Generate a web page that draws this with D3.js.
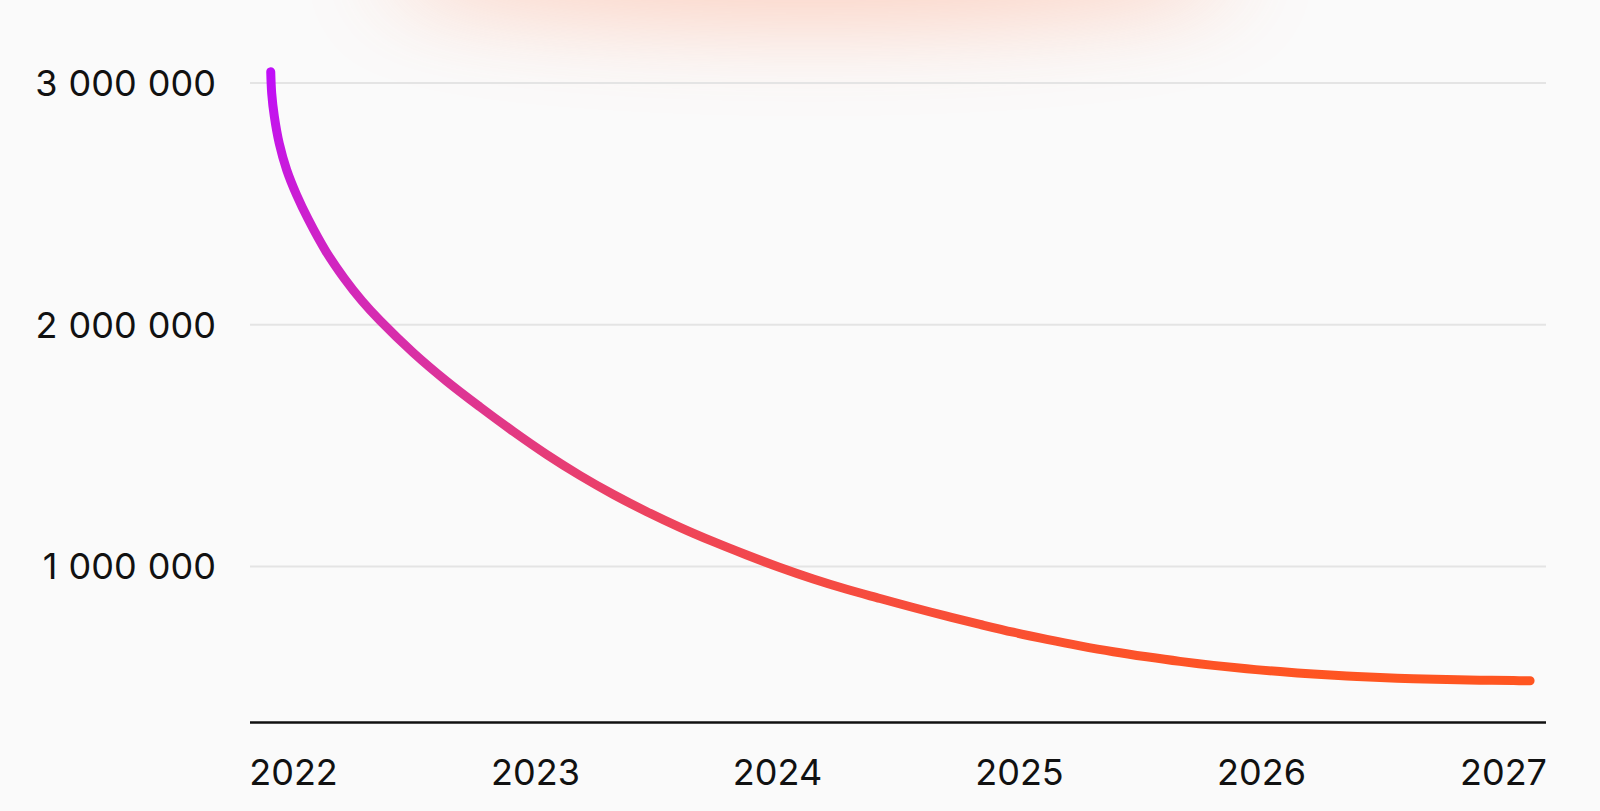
<!DOCTYPE html>
<html>
<head>
<meta charset="utf-8">
<script src="https://cdn.jsdelivr.net/npm/d3@7"></script>
<style>
  html, body { margin: 0; padding: 0; background: #fafafa; }
  svg { display: block; }
  text { font-family: Inter, "Noto Sans", sans-serif; fill: #111; }
</style>
</head>
<body>
<svg id="chart" width="1600" height="811"></svg>
<script>
// ---- data ----
const years = [2021.908, 2021.912, 2021.923, 2021.943, 2021.974, 2022.015, 2022.063, 2022.136,
  2022.211, 2022.285, 2022.360, 2022.497, 2022.635, 2022.773, 2022.910, 2023.048, 2023.186,
  2023.324, 2023.462, 2023.599, 2023.737, 2023.875, 2024.012, 2024.150, 2024.288, 2024.426,
  2024.563, 2024.701, 2024.839, 2024.976, 2025.115, 2025.252, 2025.390, 2025.528, 2025.665,
  2025.803, 2025.941, 2026.079, 2026.216, 2026.354, 2026.492, 2026.629, 2026.767, 2026.905,
  2027.043, 2027.112];
const values = [3044700, 2955300, 2858500, 2748400, 2638000, 2534500, 2434000, 2301600,
  2190700, 2096400, 2014400, 1882000, 1764100, 1657400, 1556400, 1460900, 1374000,
  1295400, 1224200, 1159600, 1100100, 1045000, 993300, 945700, 903100, 865100,
  827800, 791800, 757900, 725600, 696200, 669300, 644900, 623800, 604800,
  588300, 574200, 562600, 552700, 544400, 537800, 532800, 529500, 527000,
  525400, 524900];
const xTickLabels = [2022, 2023, 2024, 2025, 2026, 2027];
const yTickValues = [1000000, 2000000, 3000000];

// ---- layout ----
const svg = d3.select("#chart");
const W = 1600, H = 811;
const plotLeft = 250, plotRight = 1546, axisY = 722.5, topY = 82.5;

const x = d3.scaleLinear().domain([2022, 2027]).range([293, 1503]);
const y = d3.scaleLinear().domain([352000, 3000000]).range([axisY, topY]);

const defs = svg.append("defs");
const blur = defs.append("filter").attr("id", "glow")
  .attr("x", "-50%").attr("y", "-300%").attr("width", "200%").attr("height", "700%");
blur.append("feGaussianBlur").attr("stdDeviation", 45);

const grad = defs.append("linearGradient").attr("id", "lineGrad")
  .attr("gradientUnits", "userSpaceOnUse")
  .attr("x1", 0).attr("x2", 0)
  .attr("y1", y(d3.max(values))).attr("y2", y(d3.min(values)));
grad.append("stop").attr("offset", "0%").attr("stop-color", "#c00ff8");
grad.append("stop").attr("offset", "45%").attr("stop-color", "#d82fa8");
grad.append("stop").attr("offset", "80%").attr("stop-color", "#f2484c");
grad.append("stop").attr("offset", "100%").attr("stop-color", "#ff5520");

svg.append("rect").attr("width", W).attr("height", H).attr("fill", "#fafafa");

// glow at top
svg.append("ellipse")
  .attr("cx", 810).attr("cy", -30).attr("rx", 430).attr("ry", 52)
  .attr("fill", "#ff8a60").attr("opacity", 0.38)
  .attr("filter", "url(#glow)");

// gridlines + y labels
const fmt = d3.formatLocale({ thousands: "\u00a0", grouping: [3], decimal: ",", currency: ["", ""] }).format(",d");
const yAxis = d3.axisLeft(y)
  .tickValues(yTickValues)
  .tickSize(-(plotRight - plotLeft))
  .tickPadding(34)
  .tickFormat(fmt);

const gy = svg.append("g").attr("transform", `translate(${plotLeft},0)`).call(yAxis);
gy.select(".domain").remove();
gy.selectAll(".tick line").attr("stroke", "#e4e4e4").attr("stroke-width", 2);
gy.selectAll(".tick text").attr("font-size", 36).attr("fill", "#111")
  .attr("font-family", "Inter, 'Noto Sans', sans-serif").attr("dy", "0.36em")
  .attr("word-spacing", 1);

// x axis baseline
svg.append("line")
  .attr("x1", plotLeft).attr("x2", plotRight)
  .attr("y1", axisY).attr("y2", axisY)
  .attr("stroke", "#111").attr("stroke-width", 2.6);

// x labels
const xAxis = d3.axisBottom(x).tickValues(xTickLabels).tickSize(0).tickPadding(0)
  .tickFormat(d3.format("d"));
const gx = svg.append("g").attr("transform", `translate(0,${axisY})`).call(xAxis);
gx.select(".domain").remove();
gx.selectAll(".tick text").attr("font-size", 36).attr("fill", "#111")
  .attr("font-family", "Inter, 'Noto Sans', sans-serif")
  .attr("y", 62).attr("dy", 0);

// line
const data = years.map((yr, i) => ({ yr, v: values[i] }));
const line = d3.line().x(d => x(d.yr)).y(d => y(d.v)).curve(d3.curveCatmullRom.alpha(0.5));
svg.append("path").datum(data)
  .attr("d", line)
  .attr("fill", "none")
  .attr("stroke", "url(#lineGrad)")
  .attr("stroke-width", 9)
  .attr("stroke-linecap", "round")
  .attr("stroke-linejoin", "round");
</script>
</body>
</html>
